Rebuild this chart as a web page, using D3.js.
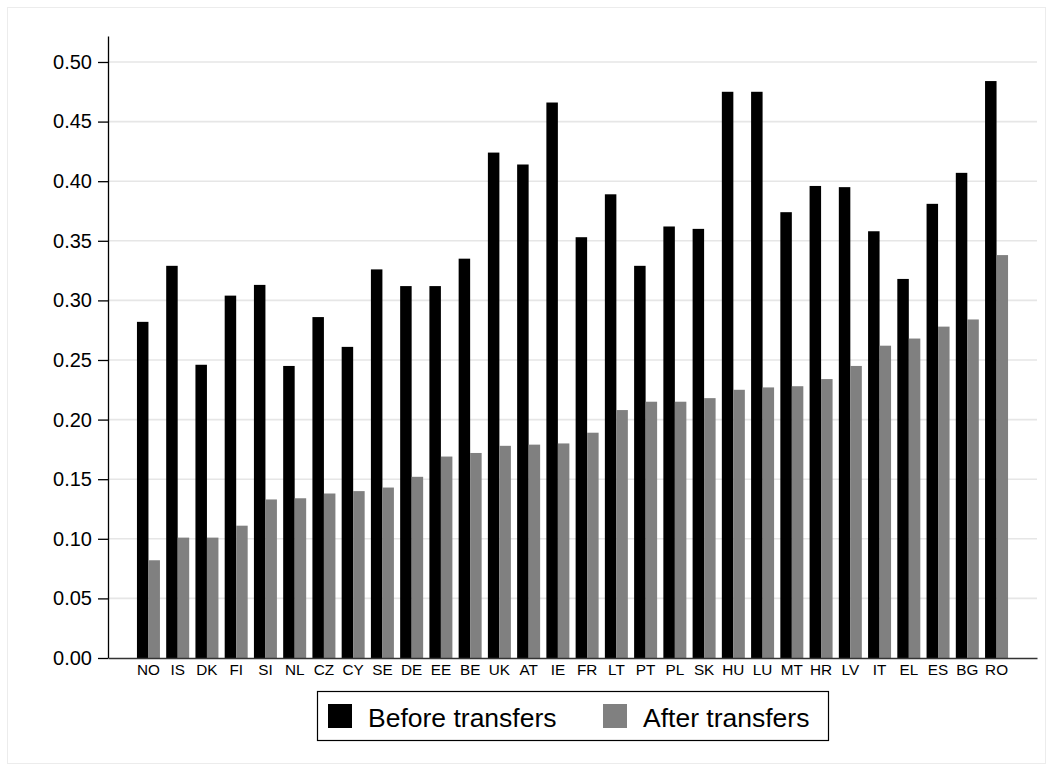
<!DOCTYPE html>
<html>
<head>
<meta charset="utf-8">
<script src="https://cdn.jsdelivr.net/npm/d3@7"></script>
<style>
  html, body { margin: 0; padding: 0; background: #fff; }
  svg { display: block; font-family: "Liberation Sans", Arial, sans-serif; }
</style>
</head>
<body>
<svg id="chart" width="1053" height="771"></svg>
<script>
const countries = ["NO","IS","DK","FI","SI","NL","CZ","CY","SE","DE","EE","BE","UK","AT","IE","FR","LT","PT","PL","SK","HU","LU","MT","HR","LV","IT","EL","ES","BG","RO"];
const beforeTransfers = [0.282,0.329,0.246,0.304,0.313,0.245,0.286,0.261,0.326,0.312,0.312,0.335,0.424,0.414,0.466,0.353,0.389,0.329,0.362,0.360,0.475,0.475,0.374,0.396,0.395,0.358,0.318,0.381,0.407,0.484];
const afterTransfers  = [0.082,0.101,0.101,0.111,0.133,0.134,0.138,0.140,0.143,0.152,0.169,0.172,0.178,0.179,0.180,0.189,0.208,0.215,0.215,0.218,0.225,0.227,0.228,0.234,0.245,0.262,0.268,0.278,0.284,0.338];
const seriesNames = ["Before transfers", "After transfers"];
const seriesColors = ["#000000", "#808080"];
const yTicks = [0, 0.05, 0.10, 0.15, 0.20, 0.25, 0.30, 0.35, 0.40, 0.45, 0.50];

(function () {
const svg = d3.select("#chart");

// outer frame
svg.append("rect").attr("x", 7.5).attr("y", 7.5).attr("width", 1038).attr("height", 756)
  .attr("fill", "#fff").attr("stroke", "#ececec").attr("stroke-width", 1);

const mLeft = 108, mRight = 1037, mBottom = 658, mTop = 36;

const y = d3.scaleLinear().domain([0, 0.5218]).range([mBottom, mTop]);
const x = d3.scaleBand().domain(countries).range([mLeft, mRight]).paddingInner(0.2137).paddingOuter(0.99);
const xs = d3.scaleBand().domain(seriesNames).range([0, x.bandwidth()]);

// gridlines
svg.append("g").selectAll("line").data(yTicks.filter(d => d > 0)).join("line")
  .attr("x1", mLeft).attr("x2", mRight)
  .attr("y1", d => y(d)).attr("y2", d => y(d))
  .attr("stroke", "#e6e6e6").attr("stroke-width", 1.6);

// bars
const data = countries.map((c, i) => ({c, vals: [beforeTransfers[i], afterTransfers[i]]}));
const groups = svg.append("g").selectAll("g").data(data).join("g")
  .attr("transform", d => `translate(${x(d.c)},0)`);
groups.selectAll("rect").data(d => d.vals.map((v, j) => ({v, s: seriesNames[j], j}))).join("rect")
  .attr("x", d => xs(d.s))
  .attr("y", d => y(d.v))
  .attr("width", xs.bandwidth())
  .attr("height", d => mBottom - y(d.v))
  .attr("fill", d => seriesColors[d.j]);

// y axis
const yAxis = d3.axisLeft(y).tickValues(yTicks).tickFormat(d3.format(".2f")).tickSize(10).tickPadding(6).tickSizeOuter(0);
const gy = svg.append("g").attr("transform", `translate(${mLeft},0)`).call(yAxis);
gy.select(".domain").attr("stroke", "#000").attr("stroke-width", 1.3);
gy.selectAll(".tick line").attr("stroke", "#000").attr("stroke-width", 1.3);
gy.selectAll(".tick text").attr("font-size", "20px").attr("fill", "#000")
  .attr("font-family", "Liberation Sans, Arial, sans-serif");

// x axis
const xAxis = d3.axisBottom(x).tickSize(0).tickPadding(6).tickSizeOuter(0);
const gx = svg.append("g").attr("transform", `translate(0,${mBottom})`).call(xAxis);
gx.select(".domain").attr("stroke", "#333").attr("stroke-width", 1.3);
gx.selectAll(".tick text").attr("font-size", "15.3px").attr("fill", "#000")
  .attr("font-family", "Liberation Sans, Arial, sans-serif").attr("dy", "0.71em");

// legend
const lg = svg.append("g");
lg.append("rect").attr("x", 317.5).attr("y", 691.5).attr("width", 511).attr("height", 49)
  .attr("fill", "#fff").attr("stroke", "#000").attr("stroke-width", 1.2);
const legendX = [328, 603];
seriesNames.forEach((name, i) => {
  lg.append("rect").attr("x", legendX[i]).attr("y", 704).attr("width", 24).attr("height", 24)
    .attr("fill", seriesColors[i]);
  lg.append("text").attr("x", legendX[i] + 40).attr("y", 727)
    .attr("font-size", "26.5px").attr("fill", "#000").text(name);
});
})();
</script>
</body>
</html>
